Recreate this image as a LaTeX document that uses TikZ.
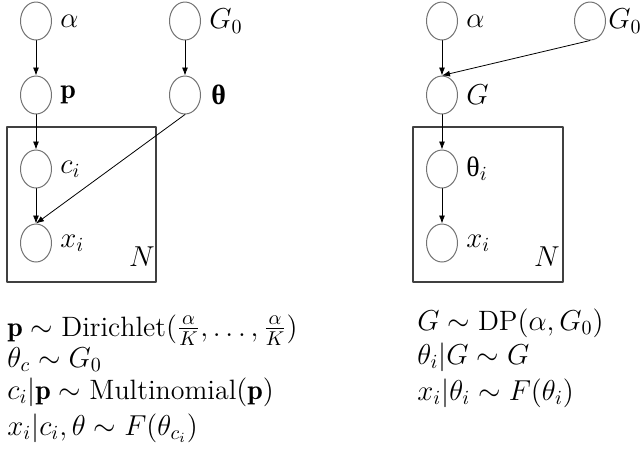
\documentclass[tikz,border=0pt]{standalone}
\usepackage{amsmath}
\usepackage{fontspec}
\newfontfamily\grkfont{Liberation Serif}
\usetikzlibrary{shapes.geometric,arrows.meta}

\begin{document}
\begin{tikzpicture}[x=0.5pt,y=-0.5pt,line cap=round,line join=round,
  font=\fontsize{14}{16}\selectfont,
  var/.style={ellipse,draw=black!55,line width=0.5pt,minimum width=15.5pt,minimum height=19pt,inner sep=0pt},
  every label/.style={inner sep=2pt,xshift=2pt},
  edge/.style={-{Latex[length=4pt,width=3pt]},line width=0.4pt},
  plate/.style={draw=black!75,line width=0.6pt},
  formula/.style={anchor=base west,inner sep=0pt}]
  \useasboundingbox (0,0) rectangle (641,457);
  % finite mixture model
  \node[var,label=right:$\alpha$] (alphaL) at (36,21) {};
  \node[var,label=right:$G_0$] (GzeroL) at (185,21) {};
  \node[var,label=right:$\mathbf{p}$] (pL) at (36,95) {};
  \node[var,label={[xshift=1pt]right:{\grkfont\bfseries θ}}] (thetaL) at (185,95) {};
  \node[var,label=right:$c_i$] (cL) at (36,169) {};
  \node[var,label=right:$x_i$] (xL) at (36,243) {};
  \draw[plate] (7,127) rectangle (156,282);
  \node (NL) at (142,257) {$N$};
  \draw[edge] (alphaL) -- (pL);
  \draw[edge] (pL) -- (cL);
  \draw[edge] (cL) -- (xL);
  \draw[edge] (GzeroL) -- (thetaL);
  \draw[edge] (thetaL.south) -- (xL.north);
  % Dirichlet process model
  \node[var,label=right:$\alpha$] (alphaR) at (442,21) {};
  \node[var,label={[inner sep=1pt,xshift=-2pt]right:$G_0$}] (GzeroR) at (590,21) {};
  \node[var,label=right:$G$] (GR) at (442,95) {};
  \node[var,label={right:{\grkfont θ}$_i$}] (thetaR) at (442,169) {};
  \node[var,label=right:$x_i$] (xR) at (442,243) {};
  \draw[plate] (413,127) rectangle (563,282);
  \node (NR) at (547,257) {$N$};
  \draw[edge] (alphaR) -- (GR);
  \draw[edge] (GzeroR.south) -- (GR.north);
  \draw[edge] (GR) -- (thetaR);
  \draw[edge] (thetaR) -- (xR);
  % generative processes
  \node[formula] (dirichlet) at (7,336) {$\mathbf{p}\sim\mathrm{Dirichlet}(\frac{\alpha}{K},\ldots,\frac{\alpha}{K})$};
  \node[formula] (thetac) at (7,367) {$\theta_c\sim G_0$};
  \node[formula] (multi) at (7,399) {$c_i|\mathbf{p}\sim\mathrm{Multinomial}(\mathbf{p})$};
  \node[formula] (xmix) at (7,435) {$x_i|c_i,\theta\sim F(\theta_{c_i})$};
  \node[formula] (dp) at (417,330) {$G\sim\mathrm{DP}(\alpha,G_0)$};
  \node[formula] (thetai) at (417,364) {$\theta_i|G\sim G$};
  \node[formula] (xdp) at (417,400) {$x_i|\theta_i\sim F(\theta_i)$};
\end{tikzpicture}
\end{document}
